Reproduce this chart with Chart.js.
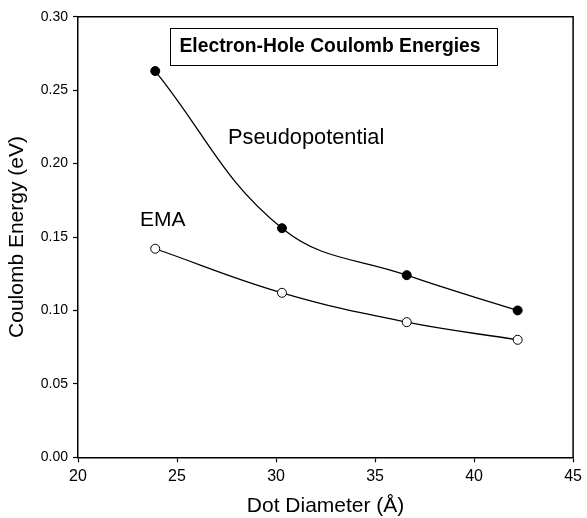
<!DOCTYPE html>
<html>
<head>
<meta charset="utf-8">
<script src="https://cdn.jsdelivr.net/npm/chart.js@4.4.0/dist/chart.umd.min.js"></script>
<style>
  html, body { margin: 0; padding: 0; background: #fff; }
  #wrap { width: 587px; height: 518px; }
</style>
</head>
<body>
<div id="wrap"><canvas id="coulombChart" width="587" height="518"></canvas></div>
<script>
// dot diameters (Angstrom) and Coulomb energies (eV)
const diameters = [23.9, 30.3, 36.6, 42.2];
const pseudoEnergy = [0.263, 0.156, 0.124, 0.100];
const emaEnergy = [0.142, 0.112, 0.092, 0.080];
const xTicks = [20, 25, 30, 35, 40, 45];
const yTicks = [0.00, 0.05, 0.10, 0.15, 0.20, 0.25, 0.30];

const FONT = "'Liberation Sans', Arial, Helvetica, sans-serif";

function points(ys) {
  return diameters.map((d, i) => ({ x: d, y: ys[i] }));
}

// frame on top/right, title box and curve labels
const extras = {
  id: 'extras',
  afterDraw(chart) {
    const c = chart.ctx, a = chart.chartArea;
    c.save();
    c.strokeStyle = '#000';
    c.lineWidth = 1.5;
    c.beginPath();
    c.moveTo(a.left, a.top);
    c.lineTo(a.right, a.top);
    c.lineTo(a.right, a.bottom);
    c.stroke();

    c.lineWidth = 1;
    c.strokeRect(170.5, 28.5, 327, 37);
    c.fillStyle = '#000';
    c.textAlign = 'center';
    c.textBaseline = 'middle';
    c.font = 'bold 19.3px ' + FONT;
    c.fillText('Electron-Hole Coulomb Energies', 330, 47);

    c.textAlign = 'left';
    c.textBaseline = 'alphabetic';
    c.font = '21.8px ' + FONT;
    c.fillText('Pseudopotential', 228, 144);
    c.font = '21px ' + FONT;
    c.fillText('EMA', 140, 226);
    c.restore();
  }
};

let ctx = document.getElementById('coulombChart').getContext('2d');
let chart = new Chart(ctx, {
  type: 'scatter',
  data: {
    datasets: [{
      label: 'Pseudopotential',
      data: points(pseudoEnergy),
      showLine: true,
      borderColor: '#000',
      borderWidth: 1.3,
      tension: 0.4,
      pointRadius: 4.5,
      pointBackgroundColor: '#000',
      pointBorderColor: '#000',
      pointBorderWidth: 1
    }, {
      label: 'EMA',
      data: points(emaEnergy),
      showLine: true,
      borderColor: '#000',
      borderWidth: 1.3,
      tension: 0.4,
      pointRadius: 4.5,
      pointBackgroundColor: '#fff',
      pointBorderColor: '#000',
      pointBorderWidth: 1
    }]
  },
  options: {
    responsive: false,
    animation: false,
    layout: { padding: { left: 0, right: 9.3, top: 16.7, bottom: 0 } },
    plugins: { legend: { display: false }, tooltip: { enabled: false } },
    scales: {
      x: {
        type: 'linear',
        min: 20, max: 45,
        afterBuildTicks: s => { s.ticks = xTicks.map(v => ({ value: v })); },
        afterFit: s => { s.height = 60.7; },
        border: { color: '#000', width: 1.5 },
        grid: { drawOnChartArea: false, color: '#000', tickLength: 5, tickWidth: 1.2 },
        ticks: { color: '#000', font: { family: FONT, size: 16 }, padding: 5, maxRotation: 0 },
        title: { display: true, text: 'Dot Diameter (Å)', color: '#000',
                 font: { family: FONT, size: 21, lineHeight: 1.1 }, padding: { top: 0, bottom: 0 } }
      },
      y: {
        type: 'linear',
        min: 0, max: 0.30,
        afterBuildTicks: s => { s.ticks = yTicks.map(v => ({ value: v })); },
        afterFit: s => { s.width = 78; },
        border: { color: '#000', width: 1.5 },
        grid: { drawOnChartArea: false, color: '#000', tickLength: 5, tickWidth: 1.2 },
        ticks: { color: '#000', font: { family: FONT, size: 14 }, padding: 5,
                 callback: v => v.toFixed(2) },
        title: { display: true, text: 'Coulomb Energy (eV)', color: '#000',
                 font: { family: FONT, size: 21 }, padding: { top: 5, bottom: 0 } }
      }
    }
  },
  plugins: [extras]
});
</script>
</body>
</html>
